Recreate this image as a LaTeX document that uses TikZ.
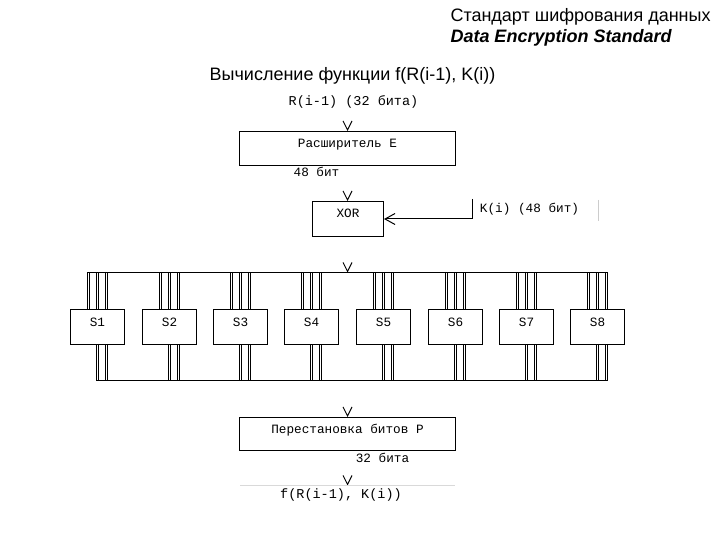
\documentclass[tikz,border=0pt]{standalone}
\usepackage{fontspec}
\setmainfont{Liberation Sans}
\newfontfamily\monofont{Liberation Mono}
\usepackage{tikz}
\usetikzlibrary{arrows.meta}

\begin{document}
\begin{tikzpicture}[x=1pt, y=-1pt, line width=1pt,
        box_style/.style={rectangle,draw=black,inner sep=0pt,text height=4pt,text depth=6pt,font=\monofont\fontsize{12.7}{14}\selectfont},
        sbox_style/.style={box_style,minimum width=54pt,minimum height=35pt},
        label_style/.style={anchor=base,inner sep=0pt,font=\monofont\fontsize{12.7}{14}\selectfont},
        title_style/.style={anchor=base west,inner sep=0pt,font=\fontsize{18}{21}\selectfont},
        tip_style/.style={draw=white,shorten <=1pt,-{Straight Barb[length=9pt,width=9pt,color=black]}},
        arrow_style/.style={draw=black,-{Straight Barb[length=10pt,width=11pt]}},
        wire_style/.style={draw=none,preaction={draw=black,transform canvas={xshift=-1pt}},postaction={draw=black,transform canvas={xshift=1pt}}},
        bus_style/.style={draw=black}]

        \useasboundingbox (0,0) rectangle (720,540);

        \node [title_style] (nTitle) at (450,22) {Стандарт шифрования данных};

        \node [title_style,font=\fontsize{18}{21}\selectfont\bfseries\itshape] (nTitleEn) at (450,42.5) {Data Encryption Standard};

        \node [title_style,anchor=base] (nHead) at (352.5,81) {Вычисление функции f(R(i-1), K(i))};

        \node [box_style,minimum width=216pt,minimum height=34pt] (nE) at (347.5,148.5) {Расширитель E};

        \node [box_style,minimum width=71pt,minimum height=35pt] (nXor) at (348,219) {XOR};

        \node [sbox_style] (s1) at (97.5,327) {S1};

        \node [sbox_style] (s2) at (169.5,327) {S2};

        \node [sbox_style] (s3) at (240.5,327) {S3};

        \node [sbox_style] (s4) at (311.5,327) {S4};

        \node [sbox_style] (s5) at (383.5,327) {S5};

        \node [sbox_style] (s6) at (455.5,327) {S6};

        \node [sbox_style] (s7) at (526.5,327) {S7};

        \node [sbox_style] (s8) at (597.5,327) {S8};

        \node [box_style,minimum width=216pt,minimum height=33pt] (nP) at (347.5,434) {Перестановка битов P};

        \node [label_style,font=\monofont\fontsize{13.5}{15}\selectfont] (nR) at (353.5,105.5) {R(i-1) (32 бита)};

        \node [label_style] (nBits48) at (316.5,177) {48 бит};

        \node [label_style] (nK) at (529.5,212) {K(i) (48 бит)};

        \node [label_style] (nBits32) at (382.5,462) {32 бита};

        \node [label_style,font=\monofont\fontsize{13.5}{15}\selectfont] (nF) at (341,498) {f(R(i-1), K(i))};

        \coordinate (busTL) at (87,272.5);
        \coordinate (busTR) at (607,272.5);
        \coordinate (busBL) at (96,380.5);
        \coordinate (busBR) at (607,380.5);
        \coordinate (kIn) at (472.5,199);
        \coordinate (outL) at (240,485.5);
        \coordinate (outR) at (455,485.5);

        \draw [tip_style] (nE.north |- nR.south) -- (nE.north);

        \draw [tip_style] (nE.south) -- (nE.south |- nXor.north);

        \draw [arrow_style] (kIn) |- (nXor.east);

        \draw [draw=black!20] (598.5,200) -- (598.5,221);

        \draw [tip_style] (nE.south |- nXor.south) -- (nE.south |- busTL);

        \draw [bus_style] (busTL) -- (busTR);

        \draw [bus_style] (busBL) -- (busBR);

        \draw [wire_style] (s1.north) ++(-9,0) -- +(0,-37) ++(9,0) -- +(0,-37) ++(9,0) -- +(0,-37) (s1.south) -- +(0,36) ++(9,0) -- +(0,36);

        \draw [wire_style] (s2.north) ++(-9,0) -- +(0,-37) ++(9,0) -- +(0,-37) ++(9,0) -- +(0,-37) (s2.south) -- +(0,36) ++(9,0) -- +(0,36);

        \draw [wire_style] (s3.north) ++(-9,0) -- +(0,-37) ++(9,0) -- +(0,-37) ++(9,0) -- +(0,-37) (s3.south) -- +(0,36) ++(9,0) -- +(0,36);

        \draw [wire_style] (s4.north) ++(-9,0) -- +(0,-37) ++(9,0) -- +(0,-37) ++(9,0) -- +(0,-37) (s4.south) -- +(0,36) ++(9,0) -- +(0,36);

        \draw [wire_style] (s5.north) ++(-9,0) -- +(0,-37) ++(9,0) -- +(0,-37) ++(9,0) -- +(0,-37) (s5.south) -- +(0,36) ++(9,0) -- +(0,36);

        \draw [wire_style] (s6.north) ++(-9,0) -- +(0,-37) ++(9,0) -- +(0,-37) ++(9,0) -- +(0,-37) (s6.south) -- +(0,36) ++(9,0) -- +(0,36);

        \draw [wire_style] (s7.north) ++(-9,0) -- +(0,-37) ++(9,0) -- +(0,-37) ++(9,0) -- +(0,-37) (s7.south) -- +(0,36) ++(9,0) -- +(0,36);

        \draw [wire_style] (s8.north) ++(-9,0) -- +(0,-37) ++(9,0) -- +(0,-37) ++(9,0) -- +(0,-37) (s8.south) -- +(0,36) ++(9,0) -- +(0,36);

        \draw [tip_style] (nP.north |- busBL) -- (nP.north);

        \draw [tip_style] (nP.south) -- (nP.south |- outL);

        \draw [draw=black!15] (outL) -- (outR);

        \end{tikzpicture}
\end{document}
